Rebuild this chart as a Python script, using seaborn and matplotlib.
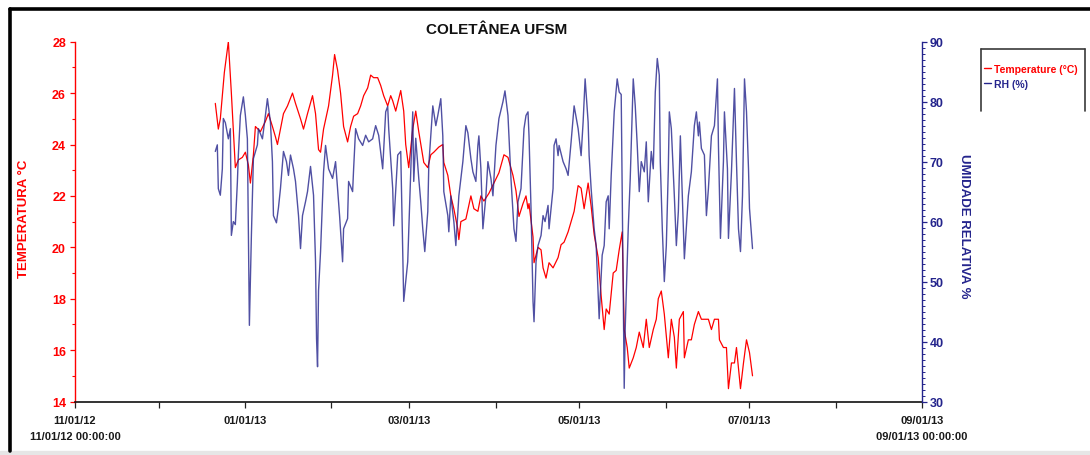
import numpy as np
import pandas as pd
import matplotlib
matplotlib.use("Agg")
import matplotlib.pyplot as plt
import matplotlib.dates as mdates
from matplotlib.ticker import MultipleLocator, FixedLocator, FixedFormatter
from matplotlib.lines import Line2D
import seaborn as sns

# Elapsed days since 2012-11-01 00:00 for each logged sample
START = pd.Timestamp("2012-11-01")

temp_days = [50.36, 51.44, 52.16, 53.60, 55.04, 56.12, 57.55, 58.63, 60.07, 61.15,
             62.23, 62.95, 64.03, 64.75, 66.55, 68.34, 69.42, 70.86, 71.94, 72.66,
             73.74, 74.82, 76.26, 78.06, 79.14, 80.94, 82.01, 83.45, 85.25, 86.33,
             87.41, 88.13, 89.21, 91.01, 92.45, 93.17, 94.24, 95.32, 96.40, 97.84,
             98.92, 100.00, 101.44, 102.52, 103.60, 105.04, 106.12, 107.19, 108.63, 109.71,
             110.79, 112.23, 113.31, 114.03, 115.11, 116.91, 117.98, 118.70, 119.78, 121.22,
             122.30, 123.38, 125.18, 126.62, 127.70, 128.78, 130.58, 132.01, 132.37, 133.81,
             134.89, 135.97, 137.41, 137.77, 138.49, 140.29, 142.09, 143.17, 144.60, 145.68,
             146.76, 148.56, 150.36, 152.16, 153.96, 155.40, 157.19, 158.27, 159.35, 160.79,
             161.87, 162.59, 162.95, 164.39, 164.75, 166.19, 167.27, 167.99, 169.06, 170.14,
             171.58, 173.38, 174.46, 175.54, 176.98, 178.06, 179.14, 180.58, 181.65, 182.73,
             184.17, 185.25, 186.33, 187.77, 188.85, 189.93, 190.65, 191.73, 193.17, 194.24,
             195.32, 196.40, 197.12, 198.20, 198.92, 200.36, 201.44, 202.52, 203.96, 205.04,
             206.12, 207.55, 208.63, 209.35, 210.43, 211.51, 212.95, 214.03, 215.11, 215.83,
             216.91, 218.35, 218.71, 220.14, 221.22, 222.30, 223.74, 224.82, 225.90, 227.34,
             228.42, 229.50, 230.94, 231.30, 232.73, 233.81, 234.53, 235.61, 236.69, 237.41,
             238.13, 238.85, 239.93, 241.01, 242.09, 243.17]
temp_c = [25.6, 24.6, 25.0, 26.8, 28.0, 26.0, 23.1, 23.4, 23.5, 23.7,
          23.2, 22.5, 23.6, 24.7, 24.5, 24.9, 25.2, 24.7, 24.3, 24.0,
          24.6, 25.2, 25.5, 26.0, 25.6, 25.0, 24.6, 25.2, 25.9, 25.2,
          23.8, 23.7, 24.6, 25.5, 26.7, 27.5, 26.9, 26.0, 24.7, 24.1,
          24.7, 25.1, 25.2, 25.5, 25.9, 26.2, 26.7, 26.6, 26.6, 26.3,
          25.9, 25.5, 25.9, 25.7, 25.3, 26.1, 25.3, 24.0, 23.1, 24.6,
          25.3, 24.5, 23.3, 23.1, 23.6, 23.7, 23.9, 24.0, 23.3, 22.8,
          22.0, 21.5, 20.7, 20.3, 21.0, 21.1, 22.0, 21.5, 21.4, 22.0,
          21.8, 22.1, 22.5, 22.9, 23.6, 23.5, 22.8, 22.2, 21.2, 21.7,
          22.0, 21.5, 21.7, 20.4, 19.4, 20.0, 19.9, 19.2, 18.8, 19.4,
          19.2, 19.6, 20.1, 20.2, 20.6, 21.0, 21.4, 22.4, 22.3, 21.5,
          22.5, 21.6, 20.5, 19.6, 18.1, 16.8, 17.6, 17.4, 19.0, 19.1,
          19.9, 20.6, 16.8, 16.1, 15.3, 15.7, 16.1, 16.7, 16.1, 17.2,
          16.1, 16.8, 17.2, 18.0, 18.3, 17.4, 15.7, 17.2, 16.5, 15.3,
          17.2, 17.5, 15.7, 16.4, 16.4, 17.0, 17.5, 17.2, 17.2, 17.2,
          16.8, 17.2, 17.2, 16.4, 16.1, 16.1, 14.5, 15.5, 15.5, 16.1,
          15.3, 14.5, 15.5, 16.4, 15.9, 15.0]

rh_days = [50.36, 51.08, 51.44, 52.16, 52.88, 53.24, 53.96, 55.04, 55.76, 56.12,
           56.83, 57.55, 58.27, 58.63, 59.35, 60.43, 61.15, 61.87, 62.23, 62.59,
           63.31, 64.03, 65.47, 65.83, 67.27, 68.34, 69.06, 70.14, 70.86, 71.22,
           72.30, 73.02, 73.74, 74.82, 75.90, 76.62, 77.34, 78.42, 79.14, 80.22,
           80.94, 81.65, 82.73, 83.45, 84.53, 85.61, 86.33, 86.69, 87.05, 87.41,
           88.13, 89.21, 89.93, 91.01, 92.45, 93.52, 94.24, 94.96, 96.04, 96.40,
           97.84, 98.20, 99.64, 100.00, 100.72, 101.80, 103.24, 104.32, 105.40, 106.83,
           107.91, 108.99, 110.43, 111.51, 112.23, 112.59, 114.03, 114.39, 115.83, 116.91,
           117.98, 119.42, 119.78, 121.22, 121.58, 122.30, 123.38, 124.10, 124.82, 125.54,
           126.62, 126.98, 128.42, 129.50, 130.22, 131.29, 132.01, 132.37, 133.81, 134.17,
           134.89, 135.97, 136.69, 137.77, 139.21, 140.29, 141.01, 142.09, 142.81, 143.88,
           144.60, 144.96, 145.68, 146.40, 147.48, 148.20, 149.28, 150.00, 151.08, 152.16,
           153.60, 154.32, 155.40, 156.47, 157.55, 158.27, 158.99, 160.07, 161.15, 161.87,
           162.59, 162.95, 163.67, 164.39, 164.75, 165.47, 166.19, 167.27, 167.99, 168.71,
           169.78, 170.14, 171.58, 171.94, 172.66, 173.38, 173.74, 175.18, 176.26, 176.98,
           178.06, 179.14, 180.58, 181.65, 182.37, 183.09, 184.17, 184.53, 185.25, 186.33,
           187.05, 188.13, 189.21, 189.93, 190.65, 191.37, 191.73, 192.45, 193.53, 194.60,
           195.32, 196.04, 196.40, 196.76, 197.12, 197.48, 198.56, 199.28, 200.36, 201.08,
           201.80, 202.52, 203.24, 204.32, 205.04, 205.76, 206.83, 207.55, 208.27, 208.99,
           209.71, 210.07, 210.79, 211.51, 212.23, 212.95, 213.31, 214.03, 215.11, 215.83,
           216.55, 217.27, 218.35, 218.71, 220.14, 221.22, 222.30, 223.02, 223.74, 224.10,
           224.82, 225.90, 226.62, 227.34, 228.42, 229.50, 230.58, 230.94, 231.66, 232.73,
           233.09, 234.17, 234.53, 235.61, 236.69, 237.41, 238.13, 238.85, 239.57, 240.29,
           241.01, 241.73, 242.09, 243.17]
rh_pct = [71.7, 72.8, 65.5, 64.4, 68.8, 77.2, 76.5, 73.8, 75.5, 57.7,
          60.0, 59.5, 66.5, 71.1, 77.7, 80.8, 77.7, 73.8, 58.8, 42.7,
          57.7, 70.5, 72.8, 75.5, 73.8, 77.7, 80.5, 76.6, 70.0, 61.0,
          59.8, 62.3, 65.5, 71.7, 70.0, 67.7, 71.1, 68.8, 66.7, 61.0,
          55.5, 61.0, 63.3, 65.0, 69.2, 64.4, 53.3, 40.5, 35.8, 48.5,
          55.0, 68.3, 72.7, 68.8, 67.2, 70.0, 65.5, 61.0, 53.3, 58.8,
          60.5, 66.7, 65.0, 68.8, 75.5, 73.8, 72.7, 74.4, 73.3, 73.8,
          76.0, 74.4, 68.8, 78.3, 79.2, 75.5, 65.5, 59.3, 71.1, 71.7,
          46.7, 53.3, 58.3, 78.3, 66.7, 73.9, 67.2, 63.3, 58.8, 55.0,
          61.7, 69.4, 79.3, 76.0, 77.7, 80.5, 74.3, 65.0, 61.0, 58.3,
          64.3, 60.0, 56.0, 64.3, 70.0, 76.0, 74.8, 70.5, 68.3, 66.7,
          72.7, 74.3, 68.8, 58.8, 64.3, 70.0, 67.2, 64.3, 72.7, 77.2,
          80.0, 81.8, 77.7, 67.2, 58.8, 56.7, 63.3, 65.5, 75.5, 77.7,
          78.3, 74.3, 62.2, 46.7, 43.3, 53.3, 56.0, 57.7, 61.0, 60.0,
          62.7, 58.8, 65.5, 72.7, 73.8, 71.0, 72.7, 70.0, 68.8, 67.7,
          73.3, 79.3, 75.5, 71.0, 76.6, 83.8, 76.6, 71.0, 65.5, 58.8,
          56.0, 43.8, 54.4, 56.0, 63.3, 64.3, 58.8, 67.7, 78.3, 83.8,
          81.6, 81.2, 64.3, 47.7, 32.2, 42.2, 58.8, 67.2, 83.8, 79.3,
          72.7, 65.0, 70.0, 68.3, 73.3, 63.3, 71.7, 68.8, 81.6, 87.2,
          84.4, 70.0, 58.8, 50.0, 56.0, 68.8, 78.3, 75.5, 64.3, 56.0,
          61.7, 74.3, 58.8, 53.8, 64.3, 68.3, 76.0, 78.3, 74.3, 76.6,
          72.2, 71.1, 61.0, 65.5, 74.3, 76.0, 83.8, 72.7, 57.2, 70.0,
          78.3, 68.8, 57.2, 68.3, 82.2, 70.0, 58.8, 55.0, 64.3, 83.8,
          78.3, 68.8, 62.2, 55.5]

# Axis ticks and labels
major_dates = ["2012-11-01", "2013-01-01", "2013-03-01", "2013-05-01", "2013-07-01", "2013-09-01"]
major_labels = ["11/01/12\n11/01/12 00:00:00", "01/01/13", "03/01/13", "05/01/13",
                "07/01/13", "09/01/13\n09/01/13 00:00:00"]
minor_dates = ["2012-12-01", "2013-02-01", "2013-04-01", "2013-06-01", "2013-08-01"]
temp_ticks = [14, 16, 18, 20, 22, 24, 26, 28]
rh_ticks = [30, 40, 50, 60, 70, 80, 90]

title_text = "COLETÂNEA UFSM"
temp_label = "TEMPERATURA °C"
rh_label = "UMIDADE RELATIVA %"
temp_series_name = "Temperature (°C)"
rh_series_name = "RH (%)"

RED = "#ff0000"
NAVY = "#24248c"

sns.set_theme(style="white")
plt.rcParams["font.family"] = ["Liberation Sans", "DejaVu Sans"]
plt.rcParams["axes.unicode_minus"] = False

temp_df = pd.DataFrame({"time": START + pd.to_timedelta(temp_days, unit="D"), "value": temp_c})
rh_df = pd.DataFrame({"time": START + pd.to_timedelta(rh_days, unit="D"), "value": rh_pct})

fig = plt.figure(figsize=(10.9, 4.56), dpi=100)
fig.patch.set_facecolor("white")
ax = fig.add_axes([75 / 1090, 1 - 402.5 / 456, 847 / 1090, 359.8 / 456])
ax.set_facecolor("none")

sns.lineplot(data=temp_df, x="time", y="value", ax=ax, color=RED, linewidth=0.9,
             sort=False, estimator=None, legend=False)
ax2 = ax.twinx()
sns.lineplot(data=rh_df, x="time", y="value", ax=ax2, color=NAVY, linewidth=1.0,
             alpha=0.8, sort=False, estimator=None, legend=False)

# x axis
x0, x1 = pd.Timestamp(major_dates[0]), pd.Timestamp(major_dates[-1])
ax.set_xlim(x0, x1)
ax.xaxis.set_major_locator(FixedLocator(mdates.date2num(pd.to_datetime(major_dates))))
ax.xaxis.set_major_formatter(FixedFormatter(major_labels))
ax.xaxis.set_minor_locator(FixedLocator(mdates.date2num(pd.to_datetime(minor_dates))))
ax.tick_params(axis="x", which="both", direction="out", length=4, width=0.9,
               color="#222222", pad=6, bottom=True)
for t in ax.get_xticklabels():
    t.set_fontsize(8)
    t.set_fontweight("bold")
    t.set_color("#1a1a1a")
    t.set_linespacing(1.7)
ax.set_xlabel("")

# left (temperature) axis
ax.set_ylim(14, 28)
ax.yaxis.set_major_locator(FixedLocator(temp_ticks))
ax.yaxis.set_minor_locator(MultipleLocator(1))
ax.tick_params(axis="y", which="major", direction="out", length=3.5, width=0.9,
               colors=RED, pad=3, left=True, labelsize=9)
ax.tick_params(axis="y", which="minor", direction="out", length=2.5, width=0.8,
               color=RED, left=True)
for t in ax.get_yticklabels():
    t.set_fontweight("bold")
ax.set_ylabel(temp_label, color=RED, fontsize=9.5, fontweight="bold")
ax.yaxis.set_label_coords(-0.053, 0.51)

# right (humidity) axis
ax2.set_ylim(30, 90)
ax2.yaxis.set_major_locator(FixedLocator(rh_ticks))
ax2.yaxis.set_minor_locator(MultipleLocator(1))
ax2.tick_params(axis="y", which="major", direction="out", length=3.5, width=0.9,
                colors=NAVY, pad=2, right=True, labelsize=9)
ax2.tick_params(axis="y", which="minor", direction="out", length=2, width=0.7,
                color=NAVY, right=True)
for t in ax2.get_yticklabels():
    t.set_fontweight("bold")
ax2.set_ylabel(rh_label, color=NAVY, fontsize=9.5, fontweight="bold", rotation=-90)
ax2.yaxis.set_label_coords(1.057, 0.49)
ax2.set_xlim(x0, x1)

# spines
for a in (ax, ax2):
    a.spines["top"].set_visible(False)
    a.grid(False)
ax.spines["right"].set_visible(False)
ax2.spines["left"].set_visible(False)
ax2.spines["bottom"].set_visible(False)
ax.spines["left"].set_color(RED)
ax.spines["left"].set_linewidth(1.0)
ax.spines["bottom"].set_color("#111111")
ax.spines["bottom"].set_linewidth(1.2)
ax2.spines["right"].set_color(NAVY)
ax2.spines["right"].set_linewidth(1.0)

# title
fig.text(497 / 1090, 1 - 30 / 456, title_text, ha="center", va="center",
         fontsize=11, fontweight="bold", color="#111111")

# legend
handles = [Line2D([], [], color=RED, linewidth=1.0),
           Line2D([], [], color=NAVY, linewidth=1.0)]
leg = fig.legend(handles, [temp_series_name, rh_series_name], loc="upper left",
                 bbox_to_anchor=(984 / 1090, 1 - 65 / 456), frameon=False,
                 handlelength=0.7, handletextpad=0.25, labelspacing=0.45,
                 borderpad=0, borderaxespad=0,
                 labelcolor=[RED, NAVY], prop={"weight": "bold", "size": 7.5})
box_x0, box_x1, box_y0, box_y1 = 981 / 1090, 1085 / 1090, 1 - 50 / 456, 1 - 112 / 456
for xs, ys in (([box_x0, box_x0], [box_y1, box_y0]),
               ([box_x0, box_x1], [box_y0, box_y0]),
               ([box_x1, box_x1], [box_y0, box_y1])):
    fig.add_artist(Line2D(xs, ys, transform=fig.transFigure, color="#3a3a3a", linewidth=1.2))

# page frame around the chart
fig.add_artist(Line2D([10 / 1090, 10 / 1090], [0.008, 1 - 10 / 456], transform=fig.transFigure,
                      color="black", linewidth=2.6))
fig.add_artist(Line2D([10 / 1090, 1.0], [1 - 10 / 456, 1 - 10 / 456], transform=fig.transFigure,
                      color="black", linewidth=2.6))
fig.add_artist(plt.Rectangle((0, 0), 1, 4 / 456, transform=fig.transFigure,
                             color="#e6e6e6", zorder=-1))

fig.savefig("out.png", dpi=100, facecolor="white")
